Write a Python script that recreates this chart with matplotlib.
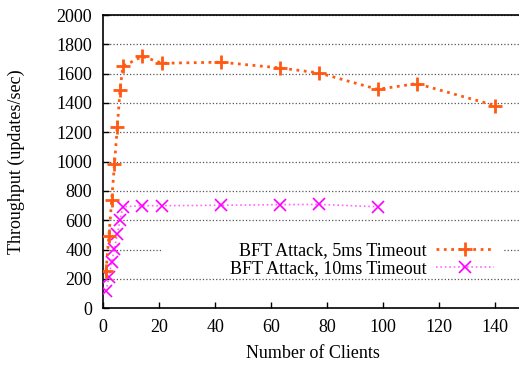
import matplotlib.pyplot as plt
from matplotlib.patches import Rectangle

# Throughput under BFT attack, two timeout settings
clients_5ms = [1, 2, 3, 4, 5, 6, 7, 14, 21, 42, 63, 77, 98, 112, 140]
tput_5ms = [255, 492, 735, 984, 1235, 1490, 1650, 1718, 1671, 1678, 1639, 1605, 1493, 1532, 1382]

clients_10ms = [1, 2, 3, 4, 5, 6, 7, 14, 21, 42, 63, 77, 98]
tput_10ms = [118, 210, 316, 407, 505, 601, 692, 699, 699, 702, 706, 708, 692]

label_5ms = 'BFT Attack, 5ms Timeout'
label_10ms = 'BFT Attack, 10ms Timeout'

plt.rcParams['font.family'] = ['Liberation Serif', 'DejaVu Serif']
plt.rcParams['font.size'] = 13

fig = plt.figure(figsize=(5.19, 3.66), dpi=100)
ax = fig.add_axes([0.199, 0.158, 0.809, 0.801])

ax.plot(clients_5ms, tput_5ms, linestyle=':', lw=2, color='#ff5a14',
        marker='+', markersize=10, markeredgewidth=2, label=label_5ms, zorder=4)
ax.plot(clients_10ms, tput_10ms, linestyle=':', lw=1.2, color='#ff66ff',
        marker='x', markersize=8, markeredgewidth=1.2, markeredgecolor='#ff00ff',
        label=label_10ms, zorder=3)

ax.set_xlim(0, 150)
ax.set_ylim(0, 2000)
ax.set_xticks(range(0, 141, 20))
ax.set_yticks(range(0, 2001, 200))
ax.yaxis.grid(True, linestyle=':', color='#555555', lw=0.9)
ax.set_axisbelow(True)
ax.tick_params(direction='in', length=4, width=1, pad=8)
for s in ax.spines.values():
    s.set_linewidth(1.2)

ax.set_xlabel('Number of Clients')
ax.set_ylabel('Throughput (updates/sec)')
ax.xaxis.set_label_coords(0.5, -0.125)
ax.yaxis.set_label_coords(-0.186, 0.5)

# white key box hides the grid behind the legend
ax.add_patch(Rectangle((20.6, 212), 122.3, 266, facecolor='white',
                       edgecolor='none', zorder=1))

leg = ax.legend(loc='upper right', bbox_to_anchor=(494 / 519, 1 - 242 / 366),
                bbox_transform=fig.transFigure, markerfirst=False, frameon=False,
                handlelength=3.2, handletextpad=0.55, borderpad=0,
                borderaxespad=0, labelspacing=0.08)
leg.set_zorder(5)

fig.savefig('out.png', dpi=100)
